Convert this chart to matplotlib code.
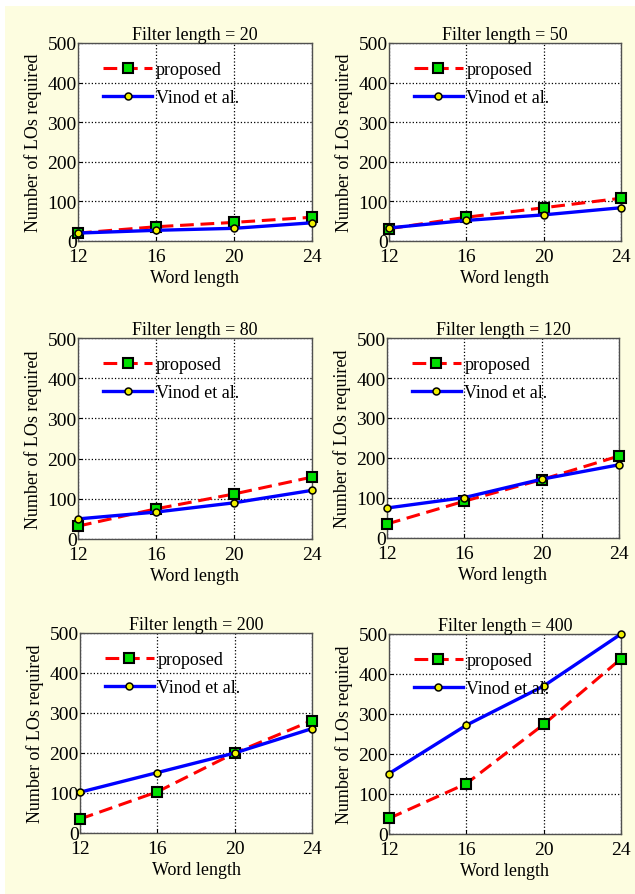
import numpy as np
import matplotlib.pyplot as plt
from matplotlib.patches import Rectangle

plt.rcParams['font.family'] = ['Liberation Serif', 'DejaVu Serif']
plt.rcParams['font.size'] = 13

word_length = [12, 16, 20, 24]
filter_lengths = [20, 50, 80, 120, 200, 400]

# number of LOs required
proposed = [
    [20, 36, 47, 60],
    [31, 60, 84, 108],
    [32, 75, 112, 154],
    [35, 92, 146, 205],
    [35, 103, 200, 281],
    [39, 126, 274, 438],
]
vinod = [
    [20, 27, 32, 46],
    [33, 52, 66, 84],
    [50, 67, 90, 121],
    [75, 101, 147, 183],
    [102, 151, 200, 261],
    [151, 272, 370, 500],
]

bg = '#fdfde0'
fig = plt.figure(figsize=(6.35, 8.95), dpi=100, facecolor='white')
fig.patches.append(Rectangle((5 / 635, 0), 1, 1 - 7 / 895, transform=fig.transFigure,
                             facecolor=bg, edgecolor='none', zorder=-10))

W, H = 635, 895
# axes boxes in pixels: left, top, right, bottom
boxes = [
    (78, 44, 312, 242),
    (389, 44, 621, 242),
    (78, 339, 312, 540),
    (387, 339, 619, 539),
    (80, 634, 312, 834),
    (389, 635, 621, 835),
]

for i, (fl, p, v) in enumerate(zip(filter_lengths, proposed, vinod)):
    l, t, r, b = boxes[i]
    ax = fig.add_axes([l / W, 1 - b / H, (r - l) / W, (b - t) / H])
    ax.plot(word_length, p, color='red', linestyle='--', dashes=(4.5, 2.2), linewidth=2.2,
            marker='s', markersize=6.8, markerfacecolor='#00e000', markeredgecolor='black',
            markeredgewidth=1.5, label='proposed', clip_on=False, zorder=3)
    ax.plot(word_length, v, color='blue', linestyle='-', linewidth=2.4,
            marker='o', markersize=5, markerfacecolor='#f0f000', markeredgecolor='black',
            markeredgewidth=1.1, label='Vinod et al.', clip_on=False, zorder=4)
    ax.set_xlim(12, 24)
    ax.set_ylim(0, 500)
    ax.set_xticks(word_length)
    ax.set_yticks([0, 100, 200, 300, 400, 500])
    ax.grid(True, color='black', linestyle=':', linewidth=0.9)
    ax.tick_params(direction='in', length=3, labelsize=14)
    ax.tick_params(axis='x', pad=5)
    ax.tick_params(axis='y', pad=1)
    for s in ax.spines.values():
        s.set_color('#505050')
        s.set_linewidth(1.0)
    ax.set_title('Filter length = %d' % fl, fontsize=13, pad=3)
    ax.set_xlabel('Word length', fontsize=13, labelpad=3)
    ax.set_ylabel('Number of LOs required', fontsize=13, labelpad=4)
    ax.legend(loc='upper left', frameon=False, fontsize=13, handlelength=2.7,
              handletextpad=0.2, borderaxespad=0, labelspacing=0.6,
              bbox_to_anchor=(0.077, 0.945))

fig.savefig('out.png', dpi=100, facecolor='white')
